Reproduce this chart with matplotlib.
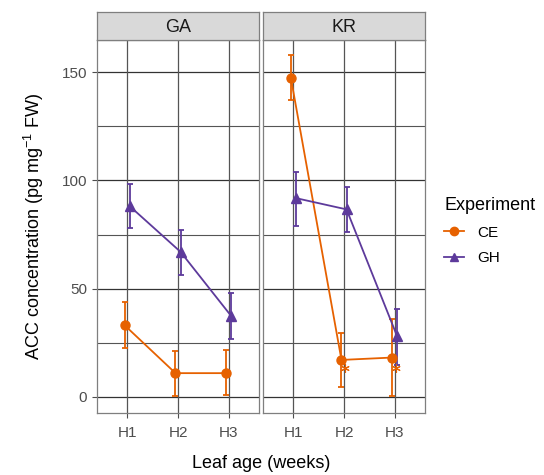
import matplotlib
matplotlib.use("Agg")
import matplotlib.pyplot as plt
from matplotlib.lines import Line2D
import numpy as np

plt.rcParams['font.family'] = ['Liberation Sans', 'DejaVu Sans']

panels = ["GA", "KR"]
categories = ["H1", "H2", "H3"]
experiments = ["CE", "GH"]

# mean, lower, upper per panel/experiment
ga_ce_mean = [33, 11, 11]
ga_ce_low = [22.8, 0.6, 0.9]
ga_ce_high = [43.8, 21.4, 21.7]
ga_gh_mean = [88, 67, 37.4]
ga_gh_low = [78, 56.3, 26.6]
ga_gh_high = [98.5, 77, 48]
kr_ce_mean = [147.4, 17.1, 18.2]
kr_ce_low = [137, 4.8, 0.6]
kr_ce_high = [157.8, 29.7, 35.9]
kr_gh_mean = [91.8, 86.6, 28]
kr_gh_low = [79, 76, 14.8]
kr_gh_high = [103.7, 97, 40.6]

# asterisk annotations (panel KR, CE)
star_cats = ["H2", "H3"]
star_vals = [13.5, 13.5]

colors = {"CE": "#E66100", "GH": "#5D3A9B"}
markers = {"CE": "o", "GH": "^"}
dodge = {"CE": -0.05, "GH": 0.05}

data = {
    ("GA", "CE"): (ga_ce_mean, ga_ce_low, ga_ce_high),
    ("GA", "GH"): (ga_gh_mean, ga_gh_low, ga_gh_high),
    ("KR", "CE"): (kr_ce_mean, kr_ce_low, kr_ce_high),
    ("KR", "GH"): (kr_gh_mean, kr_gh_low, kr_gh_high),
}

W, H = 544, 475
fig = plt.figure(figsize=(W / 100, H / 100), dpi=100)

def fx(px):
    return px / W

def fy(py):
    return 1 - py / H

panel_x = {"GA": (97, 259), "KR": (263, 425)}
top, bottom, strip_top = 40, 413, 12

x = np.arange(1, 4)
for p in panels:
    x0, x1 = panel_x[p]
    ax = fig.add_axes([fx(x0), fy(bottom), fx(x1 - x0), (bottom - top) / H])
    ax.set_xlim(0.4, 3.6)
    ax.set_ylim(-7.4, 164.8)
    ax.set_facecolor("white")
    for yv in [0, 25, 50, 75, 100, 125, 150]:
        ax.axhline(yv, color="#333333" if yv % 50 == 0 else "#555555",
                   lw=0.9 if yv % 50 == 0 else 0.8, zorder=0)
    for xv in x:
        ax.axvline(xv, color="#555555", lw=0.9, zorder=0)
    for s in ax.spines.values():
        s.set_color("#7f7f7f")
        s.set_linewidth(0.9)
    for e in experiments:
        m, lo, hi = data[(p, e)]
        xs = x + dodge[e]
        m = np.array(m); lo = np.array(lo); hi = np.array(hi)
        ax.errorbar(xs, m, yerr=[m - lo, hi - m], color=colors[e], lw=1.3,
                    elinewidth=1.3, capsize=2, capthick=1.3,
                    marker=markers[e], markersize=7 if e == "GH" else 6.5, zorder=3)
    if p == "KR":
        for c, v in zip(star_cats, star_vals):
            xi = categories.index(c) + 1 + dodge["CE"] + 0.07
            ax.plot([xi], [v], marker=(6, 2, 0), markersize=6, color=colors["CE"],
                    mew=0.8, linestyle="none", zorder=4)
    ax.set_xticks(x)
    ax.set_xticklabels(categories)
    ax.set_yticks([0, 50, 100, 150])
    ax.tick_params(axis="both", colors="#4D4D4D", labelsize=11, length=3.5, width=0.8)
    ax.tick_params(axis="x", pad=6)
    if p == "KR":
        ax.tick_params(axis="y", left=False, labelleft=False)
    # strip
    sax = fig.add_axes([fx(x0), fy(top), fx(x1 - x0), (top - strip_top) / H])
    sax.set_facecolor("#D9D9D9")
    sax.set_xticks([]); sax.set_yticks([])
    for s in sax.spines.values():
        s.set_color("#7f7f7f")
        s.set_linewidth(0.9)
    sax.text(0.5, 0.45, p, ha="center", va="center", fontsize=13, color="#1A1A1A",
             transform=sax.transAxes)

fig.text(fx(34), fy(226), r"ACC concentration (pg mg$^{\mathregular{-1}}$ FW)", rotation=90,
         ha="center", va="center", fontsize=13, color="black")
fig.text(fx(261), fy(463), "Leaf age (weeks)", ha="center", va="center",
         fontsize=13, color="black")

handles = [Line2D([0], [0], color=colors[e], marker=markers[e], lw=1.3,
                  markersize=6) for e in experiments]
leg = fig.legend(handles, experiments, title="Experiment", loc="upper left",
                 bbox_to_anchor=(fx(438), fy(191)), frameon=False, fontsize=11,
                 title_fontsize=13, handlelength=1.3, labelspacing=0.75,
                 handletextpad=0.9, borderaxespad=0)
leg._legend_box.align = "left"

fig.savefig("out.png", dpi=100)
